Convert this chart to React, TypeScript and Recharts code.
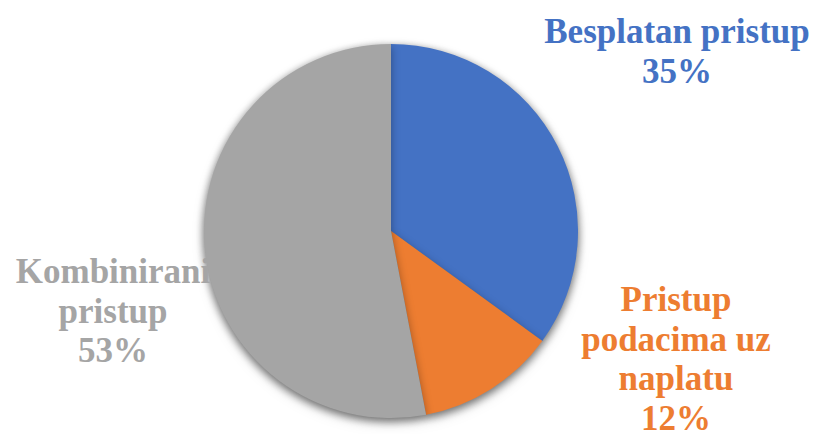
import { PieChart, Pie, Cell } from "recharts";

// categories, values and slice colours
const CATEGORIES = ["Besplatan pristup", "Pristup podacima uz naplatu", "Kombinirani pristup"];
const LABEL_LINES = [["Besplatan pristup"], ["Pristup", "podacima uz", "naplatu"], ["Kombinirani", "pristup"]];
const VALUES = [35, 12, 53];
const COLORS = ["#4472C4", "#ED7D31", "#A5A5A5"];

// label block placement relative to the pie centre (x of block centre, first baseline)
const LABEL_OFFSETS = [
  { dx: 286, dy: -188 },
  { dx: 285, dy: 80 },
  { dx: -278, dy: 52 },
];

const FONT = "'Times New Roman', 'Liberation Serif', serif";
const LINE_H = 39.5;

const data = CATEGORIES.map((name, i) => ({ name, value: VALUES[i] }));

function renderLabel(props: any) {
  const { cx, cy, index, percent } = props;
  const off = LABEL_OFFSETS[index];
  const lines = [...LABEL_LINES[index], `${Math.round(percent * 100)}%`];
  const x = cx + off.dx;
  return (
    <text
      x={x}
      y={cy + off.dy}
      textAnchor="middle"
      fill={COLORS[index]}
      style={{ fontFamily: FONT, fontWeight: 700, fontSize: 35 }}
    >
      {lines.map((l, i) => (
        <tspan key={i} x={x} y={cy + off.dy + i * LINE_H}>
          {l}
        </tspan>
      ))}
    </text>
  );
}

export default function App() {
  return (
    <div style={{ width: 818, height: 434, background: "#fff" }}>
      <style>{`
        body { margin: 0; }
        .main-pie { filter: drop-shadow(0px 3px 4px rgba(0,0,0,0.35)); }
        .recharts-wrapper, .recharts-wrapper * { outline: none; }
      `}</style>
      <PieChart width={818} height={434} margin={{ top: 0, right: 0, bottom: 0, left: 0 }}>
        {/* labels first so the pie sits on top of them */}
        <Pie
          data={data}
          dataKey="value"
          cx={391}
          cy={231}
          outerRadius={187}
          startAngle={90}
          endAngle={-270}
          stroke="none"
          fill="transparent"
          label={renderLabel}
          labelLine={false}
          isAnimationActive={false}
        >
          {data.map((d) => (
            <Cell key={d.name} fill="transparent" />
          ))}
        </Pie>
        <Pie
          className="main-pie"
          data={data}
          dataKey="value"
          cx={391}
          cy={231}
          outerRadius={187}
          startAngle={90}
          endAngle={-270}
          stroke="none"
          label={false}
          labelLine={false}
          isAnimationActive={false}
        >
          {data.map((d, i) => (
            <Cell key={d.name} fill={COLORS[i]} />
          ))}
        </Pie>
      </PieChart>
    </div>
  );
}
